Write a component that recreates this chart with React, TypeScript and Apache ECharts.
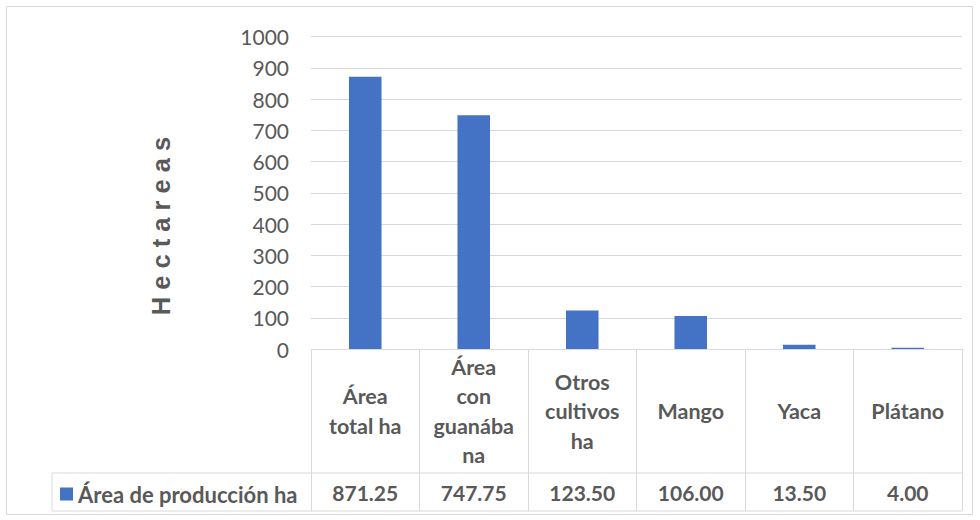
import React, { useEffect, useRef } from "react";
import * as echarts from "echarts";

const categories = [
  "Área\ntotal ha",
  "Área\ncon\nguanába\nna",
  "Otros\ncultivos\nha",
  "Mango",
  "Yaca",
  "Plátano",
];
const values = [871.25, 747.75, 123.5, 106.0, 13.5, 4.0];
const seriesName = "Área de producción ha";
const yTitle = "H e c t a r e a s";
const yMin = 0;
const yMax = 1000;
const yInterval = 100;

const GRAY = "#d9d9d9";
const TEXT = "#595959";
const BLUE = "#4472C4";
const FONT = "Lato";

export default function App() {
  const ref = useRef<HTMLDivElement>(null);
  useEffect(() => {
    if (!ref.current) return;
    const chart = echarts.init(ref.current, null, { renderer: "svg" });
    const gridLeft = 311;
    const gridRight = 962;
    const axisY = 349;
    const rowTop = 473;
    const rowBottom = 511;
    chart.setOption({
      animation: false,
      backgroundColor: "#ffffff",
      textStyle: { fontFamily: FONT },
      grid: { left: gridLeft, right: 980 - gridRight, top: 36.5, bottom: 520 - axisY },
      legend: {
        data: [seriesName],
        left: 60,
        top: 483,
        padding: 0,
        icon: "rect",
        itemWidth: 13,
        itemHeight: 13,
        itemGap: 6,
        textStyle: { fontFamily: FONT, fontWeight: "bold", fontSize: 22, color: TEXT, padding: [0, 0, 0, 0] },
      },
      xAxis: [
        {
          type: "category",
          position: "bottom",
          data: categories,
          axisLine: { show: true, lineStyle: { color: GRAY, width: 1 } },
          axisTick: { show: true, interval: 0, length: rowBottom - axisY, lineStyle: { color: GRAY, width: 1 } },
          axisLabel: {
            interval: 0,
            fontFamily: FONT,
            fontWeight: "bold",
            fontSize: 21.5,
            lineHeight: 29.5,
            color: TEXT,
            verticalAlign: "middle",
            margin: 62,
          },
          splitLine: { show: false },
        },
        {
          type: "category",
          position: "bottom",
          offset: 0,
          data: values.map((v) => v.toFixed(2)),
          axisLine: { show: false },
          axisTick: { show: false },
          axisLabel: {
            interval: 0,
            fontFamily: FONT,
            fontWeight: "bold",
            fontSize: 21,
            color: TEXT,
            verticalAlign: "middle",
            margin: 143,
          },
          splitLine: { show: false },
        },
      ],
      yAxis: {
        type: "value",
        min: yMin,
        max: yMax,
        interval: yInterval,
        axisLine: { show: false },
        axisTick: { show: false },
        axisLabel: {
          fontFamily: FONT,
          fontSize: 21,
          color: TEXT,
          margin: 22,
          formatter: (v: number) => String(v),
        },
        splitLine: { show: true, lineStyle: { color: GRAY, width: 1 } },
      },
      series: [
        {
          name: seriesName,
          type: "bar",
          xAxisIndex: 0,
          data: values,
          barWidth: "30%",
          itemStyle: { color: BLUE },
        },
      ],
      graphic: [
        {
          type: "rect",
          shape: { x: 6.5, y: 6.5, width: 966, height: 508 },
          style: { fill: "none", stroke: GRAY, lineWidth: 1 },
          silent: true,
        },
        {
          type: "line",
          shape: { x1: 52, y1: rowTop, x2: gridRight, y2: rowTop },
          style: { stroke: GRAY, lineWidth: 1 },
          silent: true,
        },
        {
          type: "line",
          shape: { x1: 52, y1: rowBottom, x2: gridRight, y2: rowBottom },
          style: { stroke: GRAY, lineWidth: 1 },
          silent: true,
        },
        {
          type: "line",
          shape: { x1: 52, y1: rowTop, x2: 52, y2: rowBottom },
          style: { stroke: GRAY, lineWidth: 1 },
          silent: true,
        },
        {
          type: "text",
          x: 161,
          y: 226,
          rotation: Math.PI / 2,
          style: {
            text: yTitle,
            fontFamily: "Liberation Sans",
            fontWeight: "bold",
            fontSize: 25.5,
            fill: TEXT,
            align: "center",
            verticalAlign: "middle",
          },
          silent: true,
        },
      ],
    });
    return () => chart.dispose();
  }, []);
  return (
    <div
      ref={ref}
      style={{ position: "fixed", left: 0, top: 0, width: 980, height: 520 }}
    />
  );
}
